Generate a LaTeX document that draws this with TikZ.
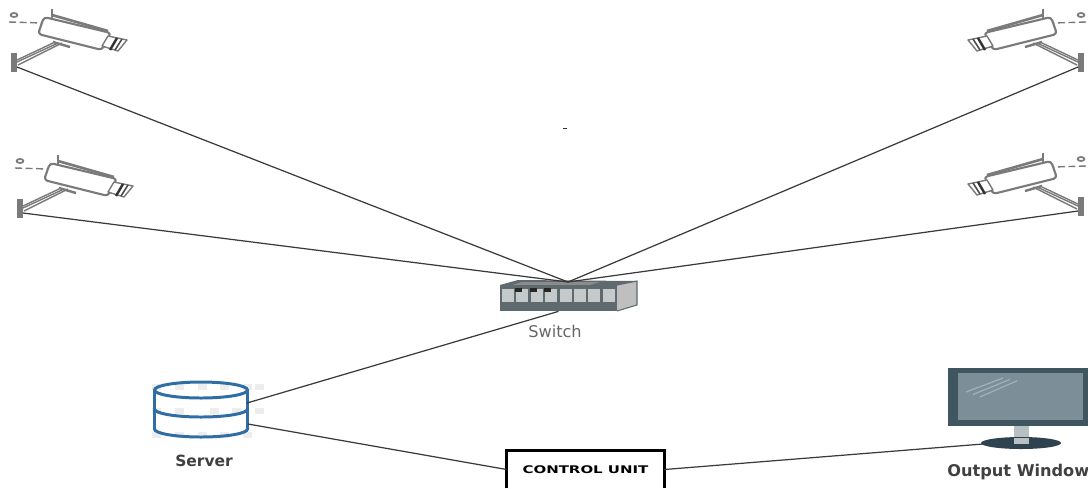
\documentclass[tikz,border=0pt]{standalone}
\usepackage{fontspec}
\setmainfont{DejaVu Sans}
\usepackage{xcolor}
\usepackage{tikz}
\usetikzlibrary{calc}

\definecolor{wirecol}{HTML}{3A3A3A}
\definecolor{camcol}{HTML}{7A7A7A}
\definecolor{dbblue}{HTML}{2F6EA5}
\definecolor{framecol}{HTML}{3F5560}
\definecolor{screencol}{HTML}{7C8F98}
\definecolor{basecol}{HTML}{2E4250}
\definecolor{standcol}{HTML}{B9C0C4}
\definecolor{swdark}{HTML}{5E6A6E}
\definecolor{swport}{HTML}{C4C9CA}

\tikzset{
  wire/.style={draw=wirecol,line width=0.7pt},
  camline/.style={draw=camcol,line width=0.8pt,line join=round},
  caption/.style={font=\fontsize{8.8}{10}\selectfont\bfseries,text=black!75,inner sep=0pt},
  pics/camera/.style={code={
    \coordinate (-port) at (-3,0);
    \fill[camcol] (-9,-14) rectangle (-3,5);
    \draw[camline] (33,-24) -- (-3,-7);
    \draw[camline] (38,-24) -- (-3,-5);
    \draw[camline] (42,-24) -- (-2,-2);
    \draw[camline,line width=1.4pt] (33,-25) -- (50,-20);
    \draw[camline,line width=1.2pt,rounded corners=2pt,fill=white]
      (24,-50) -- (91,-34) -- (82,-17) -- (18,-33) -- cycle;
    \draw[camline,line width=1.5pt] (32,-52) -- (88,-36);
    \draw[camline,line width=1.3pt] (32,-58) -- (32,-49);
    \draw[camline,fill=white] (88,-31) -- (107,-27) -- (98,-16) -- (82,-21) -- cycle;
    \draw[black!80,line width=1.4pt] (97,-29) -- (90,-17);
    \draw[black!70,line width=0.9pt] (102,-28) -- (95,-17);
    \draw[camline,dashed,dash pattern=on 4pt off 2pt] (-11,-45) -- (22,-44);
    \draw[camline,line width=1pt] (-6,-52) ellipse (3.5 and 2);
  }}
}

\begin{document}
\begin{tikzpicture}[x=0.02cm,y=-0.02cm]
  \clip (0,0) rectangle (1088,488);

  % cameras
  \pic (camNW) at (20,67) {camera};
  \pic (camW) at (26,213) {camera};
  \pic (camNE) [xscale=-1] at (1075,67) {camera};
  \pic (camE) [xscale=-1] at (1075,211) {camera};

  % switch
  \fill[swdark] (500,285) -- (518,280) -- (637,281) -- (617,285) -- cycle;
  \fill[black!45] (522,282) -- (600,282) -- (590,285) -- (512,285) -- cycle;
  \node[fill=swdark,minimum width=117*0.02cm,minimum height=26*0.02cm,inner sep=0pt] (switch) at (558.5,298) {};
  \fill[black!25] (617,285) -- (637,281) -- (637,305) -- (617,311) -- cycle;
  \draw[swdark,line width=0.6pt] (617,285) -- (637,281) -- (637,305) -- (617,311);
  \foreach \i in {0,...,7}
    \fill[swport] ({502+\i*14.4},289) rectangle ({514+\i*14.4},302);
  \foreach \i in {1,2,3}
    \fill[black!85] ({501+\i*14.4},288) rectangle ({508+\i*14.4},292);
  \coordinate (hub) at (568,282);
  \node[caption,font=\fontsize{9.2}{10}\selectfont,text=black!60] (swlabel) at (555,331) {Switch};

  % server
  \foreach \px/\py in {152/384,175/384,198/384,220/384,243/384,255/384,152/408,175/408,
                       210/408,232/408,255/408,152/432,175/432,198/432,220/432,243/432}
    \fill[black!7] (\px,\py) rectangle +(9,6);
  \begin{scope}[dbblue,line width=1.7pt]
    \draw (201,390) ellipse (46.5 and 8);
    \draw (154.5,390) -- (154.5,429) arc[start angle=180,end angle=0,x radius=46.5,y radius=8] -- (247.5,390);
    \draw (154.5,409) arc[start angle=180,end angle=0,x radius=46.5,y radius=8];
  \end{scope}
  \coordinate (srvup) at (247,403);
  \coordinate (srvdown) at (248,424);
  \node[caption] (srvlabel) at (204,461) {Server};

  % control unit
  \node[minimum width=157*0.02cm,minimum height=37*0.02cm,inner sep=0pt] (unit) at (585.5,469.5)
    {\scalebox{1.42}[1]{\fontsize{6}{7}\selectfont\bfseries CONTROL UNIT}};
  \draw[black,line width=1.4pt] (unit.south west) |- (unit.north east) -- (unit.south east);

  % monitor
  \fill[standcol] (1014,426) rectangle (1029,446);
  \fill[basecol] (1021,443) ellipse (40 and 6);
  \fill[standcol] (1014,438) rectangle (1029,444);
  \fill[framecol] (948,368) rectangle (1090,426);
  \fill[screencol] (958,373) rectangle (1083,420);
  \foreach \d in {0,7,14}
    \draw[white,opacity=0.3,line width=0.7pt] ({966+\d},{392+\d*0.35}) -- ({1003+\d},{378+\d*0.2});
  \coordinate (base) at (983,444);
  \node[caption,font=\fontsize{9.2}{10}\selectfont\bfseries,anchor=west] (outlabel) at (947,472) {Output Window};

  % speck
  \fill[black!80] (563,128) rectangle (567,129);

  % connectors
  \foreach \cam in {camNW,camW,camNE,camE}
    \draw[wire] (\cam-port) -- (hub);
  \draw[wire] (srvup) -- (switch.south);
  \draw[wire] (srvdown) -- (unit.west);
  \draw[wire] (unit.east) -- (base);
\end{tikzpicture}
\end{document}
